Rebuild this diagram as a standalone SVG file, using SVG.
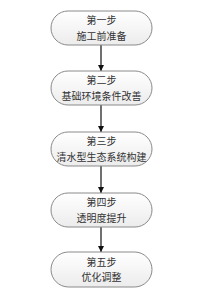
<svg xmlns="http://www.w3.org/2000/svg" width="200" height="300" viewBox="0 0 200 300">
<defs>
<linearGradient id="g" x1="0" y1="0" x2="0" y2="1">
<stop offset="0" stop-color="#ffffff"/>
<stop offset="1" stop-color="#ececec"/>
</linearGradient>
<marker id="ah" viewBox="0 0 6 6" refX="6" refY="3" markerWidth="6" markerHeight="6" markerUnits="userSpaceOnUse" orient="auto">
<path d="M0,0 L6,3 L0,6 Z" fill="#111"/>
</marker>
<style>
.box{fill:url(#g);stroke:#8a8a8a;stroke-width:1}
.t{font-family:"Liberation Serif","Noto Sans CJK SC",serif;font-size:10px;fill:#333;text-anchor:middle;dominant-baseline:central}
.c{stroke:#111;stroke-width:1.2;fill:none;marker-end:url(#ah)}
</style>
</defs>
<rect width="200" height="300" fill="#fff"/>
<g id="connectors">
<line class="c" x1="101" y1="45" x2="101" y2="71"/>
<line class="c" x1="101" y1="105" x2="101" y2="132"/>
<line class="c" x1="101" y1="166" x2="101" y2="193"/>
<line class="c" x1="101" y1="227" x2="101" y2="252"/>
</g>
<g id="step1">
<rect class="box" x="51" y="11" width="101" height="34" rx="17"/>
<text class="t" x="101.5" y="20.5">第一步</text>
<text class="t" x="101.5" y="36">施工前准备</text>
</g>
<g id="step2">
<rect class="box" x="51" y="71" width="101" height="34" rx="17"/>
<text class="t" x="101.5" y="80.5">第二步</text>
<text class="t" x="101.5" y="96">基础环境条件改善</text>
</g>
<g id="step3">
<rect class="box" x="51" y="132" width="101" height="34" rx="17"/>
<text class="t" x="101.5" y="141.5">第三步</text>
<text class="t" x="101.5" y="157">清水型生态系统构建</text>
</g>
<g id="step4">
<rect class="box" x="51" y="193" width="101" height="34" rx="17"/>
<text class="t" x="101.5" y="202.5">第四步</text>
<text class="t" x="101.5" y="218">透明度提升</text>
</g>
<g id="step5">
<rect class="box" x="51" y="252" width="101" height="35" rx="17.5"/>
<text class="t" x="101.5" y="262">第五步</text>
<text class="t" x="101.5" y="277.5">优化调整</text>
</g>
</svg>
